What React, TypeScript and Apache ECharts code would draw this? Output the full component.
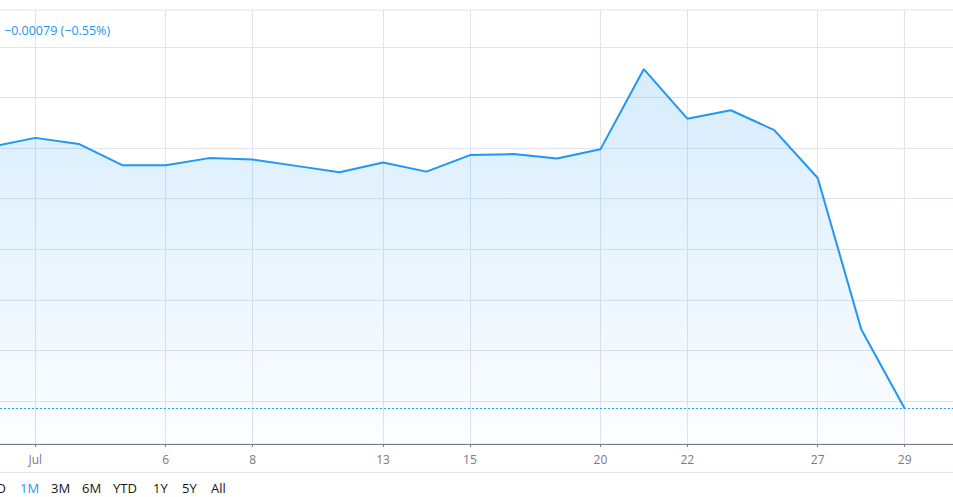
import React, { useEffect, useRef } from "react";
import * as echarts from "echarts";

// Trading days (index 0 = Jun 30), with two empty future slots
const dates = [
  "06-30", "07-01", "07-02", "07-03", "07-06", "07-07", "07-08", "07-09",
  "07-10", "07-13", "07-14", "07-15", "07-16", "07-17", "07-20", "07-21",
  "07-22", "07-23", "07-24", "07-27", "07-28", "07-29", "07-30", "07-31",
];
const prices: (number | null)[] = [
  0.143554, 0.14358, 0.143562, 0.143499, 0.143499, 0.14352, 0.143516, 0.143497,
  0.143478, 0.143507, 0.14348, 0.143529, 0.143532, 0.143519, 0.143546, 0.143784,
  0.143637, 0.143662, 0.143603, 0.143461, 0.143013, 0.142778, null, null,
];
const tickDates = ["07-01", "07-06", "07-08", "07-13", "07-15", "07-20", "07-22", "07-27", "07-29"];
const tickLabels = ["Jul", "6", "8", "13", "15", "20", "22", "27", "29"];
const priceGridLevels = [0.1428, 0.14295, 0.1431, 0.14325, 0.1434, 0.14355, 0.1437, 0.14385];
const lastPrice = 0.142778;
const changeText = "\u22120.00079 (\u22120.55%)";
const rangeButtons = ["5D", "1M", "3M", "6M", "YTD", "1Y", "5Y", "All"];
const activeRange = "1M";

const FONT = "'Open Sans', 'Noto Sans', sans-serif";

export default function App() {
  const ref = useRef<HTMLDivElement>(null);

  useEffect(() => {
    if (!ref.current) return;
    const chart = echarts.init(ref.current, undefined, { renderer: "svg" });
    const buttonX = [6, 20, 51, 82, 113, 153, 182, 211];
    const isTick = (_i: number, v: string) => tickDates.includes(v);
    const first = dates[0];
    const last = dates[dates.length - 1];
    const hLine = (v: number) => [{ coord: [first, v] }, { coord: [last, v] }];

    chart.setOption({
      animation: false,
      backgroundColor: "#ffffff",
      grid: {
        left: -8.17,
        right: -38.6,
        top: 10,
        bottom: 53,
        outerBoundsMode: "none",
        containLabel: false,
        show: true,
        borderColor: "#e0e3eb",
        borderWidth: 1,
        backgroundColor: "transparent",
      },
      xAxis: {
        type: "category",
        data: dates,
        boundaryGap: false,
        axisLine: { show: true, lineStyle: { color: "#787b86", width: 1 } },
        axisTick: { show: true, interval: isTick, length: 3, lineStyle: { color: "#787b86" } },
        axisLabel: {
          show: true,
          interval: isTick,
          margin: 9,
          color: "#787b86",
          fontSize: 12,
          fontFamily: FONT,
          formatter: (v: string) => {
            const i = tickDates.indexOf(v);
            return i >= 0 ? tickLabels[i] : "";
          },
        },
        splitLine: { show: true, interval: isTick, lineStyle: { color: "#e0e3eb", width: 1 } },
      },
      yAxis: {
        type: "value",
        min: 0.14267253,
        max: 0.1439591,
        axisLine: { show: false },
        axisTick: { show: false },
        axisLabel: { show: false },
        splitLine: { show: false },
      },
      series: [
        {
          type: "line",
          data: prices,
          z: 0,
          silent: true,
          showSymbol: false,
          clip: false,
          lineStyle: { opacity: 0 },
          markLine: {
            z: 0,
            silent: true,
            symbol: ["none", "none"],
            label: { show: false },
            lineStyle: { color: "#e0e3eb", width: 1, type: "solid" },
            data: priceGridLevels.map(hLine),
          },
        },
        {
          type: "line",
          data: prices,
          z: 3,
          showSymbol: false,
          lineStyle: { color: "#2196f3", width: 2 },
          areaStyle: {
            color: new echarts.graphic.LinearGradient(0, 0, 0, 1, [
              { offset: 0, color: "rgba(33,150,243,0.26)" },
              { offset: 1, color: "rgba(33,150,243,0.02)" },
            ]),
          },
          markLine: {
            z: 4,
            silent: true,
            symbol: ["none", "none"],
            label: { show: false },
            lineStyle: { color: "#2196f3", width: 1, type: [2, 2] },
            data: [hLine(lastPrice)],
          },
        },
      ],
      graphic: [
        {
          type: "line",
          shape: { x1: 0, y1: 472.5, x2: 953, y2: 472.5 },
          style: { stroke: "#e0e3eb", lineWidth: 1 },
          silent: true,
        },
        {
          type: "text",
          x: 4,
          y: 30,
          style: {
            text: changeText,
            fill: "#2196f3",
            font: `12.5px ${FONT}`,
            textVerticalAlign: "middle",
          },
          z: 10,
        },
        ...rangeButtons.map((b, i) => ({
          type: "text",
          x: buttonX[i],
          y: 488,
          style: {
            text: b,
            fill: b === activeRange ? "#2196f3" : "#131722",
            font: `13px ${FONT}`,
            lineHeight: 12,
            textAlign: i === 0 ? "right" : "left",
            textVerticalAlign: "middle",
          },
          z: 10,
        })),
      ],
    });
    return () => chart.dispose();
  }, []);

  return (
    <div
      ref={ref}
      style={{ position: "absolute", left: 0, top: 0, width: 953, height: 497 }}
    />
  );
}
